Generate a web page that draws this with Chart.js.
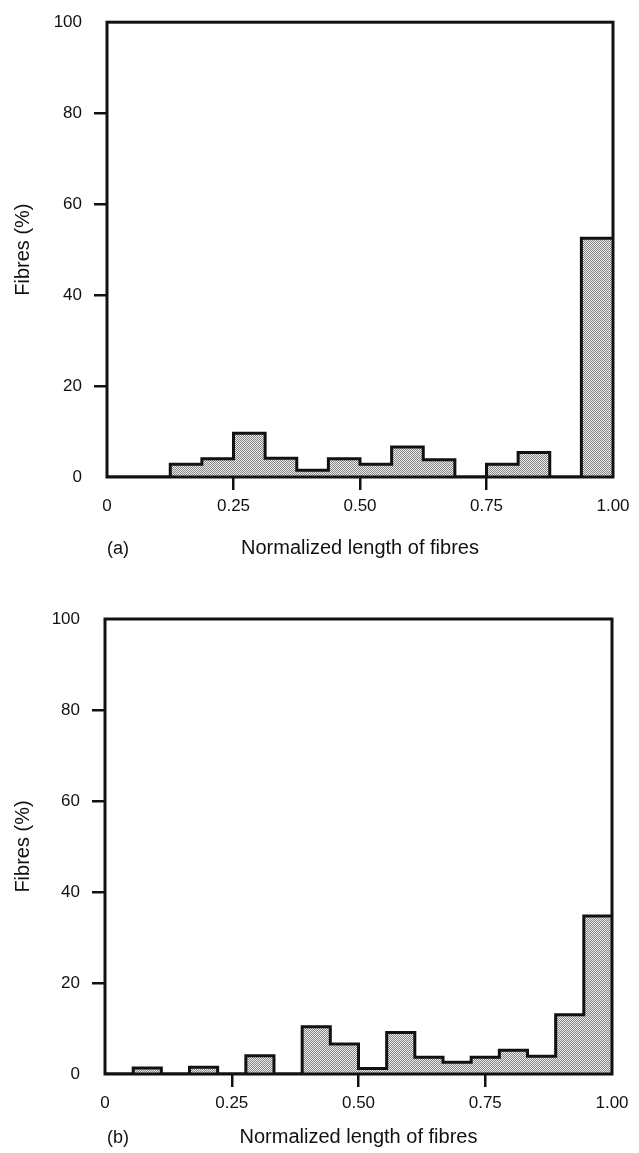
<!DOCTYPE html>
<html lang="en">
  <head>
    <meta charset="UTF-8" />
    <title>Normalized length of fibres</title>
    <script src="https://cdn.jsdelivr.net/npm/chart.js"></script>
    <style>
      body {
        margin: 0;
        background: #fff;
        width: 639px;
        height: 1153px;
        position: relative;
        overflow: hidden;
        font-family: "Liberation Sans", Arial, sans-serif;
        color: #111;
      }
      .panel {
        position: absolute;
        left: 0;
        width: 639px;
      }
      #panelA {
        top: 0;
        height: 570px;
      }
      #panelB {
        top: 575px;
        height: 578px;
      }
      .tag {
        position: absolute;
        font-size: 18px;
        line-height: 1;
      }
    </style>
  </head>
  <body>
    <div class="panel" id="panelA">
      <canvas id="chartA"></canvas>
      <span class="tag" style="left: 107px; top: 539px">(a)</span>
    </div>
    <div class="panel" id="panelB">
      <canvas id="chartB"></canvas>
      <span class="tag" style="left: 107px; top: 553px">(b)</span>
    </div>
    <script>
      // bin edges (normalized length) and share of fibres per bin, in %
      const edgesA = [0, 0.0625, 0.125, 0.1875, 0.25, 0.3125, 0.375, 0.4375, 0.5, 0.5625, 0.625, 0.6875, 0.75, 0.8125, 0.875, 0.9375, 1];
      const fibresA = [0, 0, 2.8, 4.0, 9.6, 4.1, 1.5, 4.0, 2.8, 6.6, 3.8, 0, 2.8, 5.4, 0, 52.5];

      const edgesB = [0, 0.0556, 0.1111, 0.1667, 0.2222, 0.2778, 0.3333, 0.3889, 0.4444, 0.5, 0.5556, 0.6111, 0.6667, 0.7222, 0.7778, 0.8333, 0.8889, 0.9444, 1];
      const fibresB = [0, 1.3, 0, 1.5, 0, 4.0, 0, 10.4, 6.6, 1.2, 9.1, 3.7, 2.6, 3.7, 5.2, 3.9, 13.0, 34.7];

      const xTicks = [0, 0.25, 0.5, 0.75, 1];
      const yTicks = [0, 20, 40, 60, 80, 100];

      const INK = "#111";
      const FONT = "'Liberation Sans', Arial, sans-serif";

      // dotted grey fill like a halftone screen
      const stipple = (() => {
        const c = document.createElement("canvas");
        c.width = 2;
        c.height = 2;
        const g = c.getContext("2d");
        g.fillStyle = "#ececec";
        g.fillRect(0, 0, 2, 2);
        g.fillStyle = "#858585";
        g.fillRect(0, 0, 1, 1);
        g.fillRect(1, 1, 1, 1);
        return g.createPattern(c, "repeat");
      })();

      // box round the plot area
      const frame = {
        id: "frame",
        afterDatasetsDraw(chart) {
          const { ctx, chartArea: a } = chart;
          ctx.save();
          ctx.strokeStyle = INK;
          ctx.lineWidth = 3;
          ctx.strokeRect(a.left, a.top, a.right - a.left, a.bottom - a.top);
          ctx.restore();
        },
      };

      // hide the tick marks that sit on the corners of the box
      const innerTicksOnly = (lo, hi) => (c) =>
        c.tick && (c.tick.value === lo || c.tick.value === hi) ? "rgba(0,0,0,0)" : INK;

      const makeHistogram = (id, edges, values, box) => {
        // step outline: each bin value held from its left edge to the next edge
        const points = edges.map((x, i) => ({ x, y: values[Math.min(i, values.length - 1)] }));
        return new Chart(document.getElementById(id), {
          type: "line",
          data: {
            datasets: [
              {
                data: points,
                stepped: "before",
                borderColor: INK,
                borderWidth: 3,
                backgroundColor: stipple,
                fill: "origin",
                pointRadius: 0,
              },
            ],
          },
          options: {
            responsive: true,
            maintainAspectRatio: false,
            animation: false,
            events: [],
            layout: { padding: { top: box.top, right: box.right, left: 0, bottom: 0 } },
            plugins: { legend: { display: false }, tooltip: { enabled: false } },
            scales: {
              x: {
                type: "linear",
                min: 0,
                max: 1,
                afterBuildTicks: (s) => (s.ticks = xTicks.map((v) => ({ value: v }))),
                afterFit: (s) => (s.height = box.xHeight),
                border: { display: false },
                grid: {
                  drawOnChartArea: false,
                  drawTicks: true,
                  tickLength: 13,
                  lineWidth: 2.5,
                  color: innerTicksOnly(0, 1),
                },
                ticks: {
                  color: INK,
                  font: { family: FONT, size: 17 },
                  padding: 6,
                  maxRotation: 0,
                  callback: (v) => (v === 0 ? "0" : v.toFixed(2)),
                },
                title: {
                  display: true,
                  text: "Normalized length of fibres",
                  color: INK,
                  font: { family: FONT, size: 20 },
                  padding: { top: 0, bottom: box.titlePad },
                },
              },
              y: {
                min: 0,
                max: 100,
                afterBuildTicks: (s) => (s.ticks = yTicks.map((v) => ({ value: v }))),
                afterFit: (s) => (s.width = box.left),
                border: { display: false },
                grid: {
                  drawOnChartArea: false,
                  drawTicks: true,
                  tickLength: 13,
                  lineWidth: 2.5,
                  color: innerTicksOnly(0, 100),
                },
                ticks: {
                  color: INK,
                  font: { family: FONT, size: 17 },
                  padding: 12,
                },
                title: {
                  display: true,
                  text: "Fibres (%)",
                  color: INK,
                  font: { family: FONT, size: 20 },
                  padding: { top: 11, bottom: 0 },
                },
              },
            },
          },
          plugins: [frame],
        });
      };

      makeHistogram("chartA", edgesA, fibresA, { top: 15, right: 26, left: 107, xHeight: 93, titlePad: 10 });
      makeHistogram("chartB", edgesB, fibresB, { top: 44, right: 27, left: 105, xHeight: 79, titlePad: 4 });
    </script>
  </body>
</html>
